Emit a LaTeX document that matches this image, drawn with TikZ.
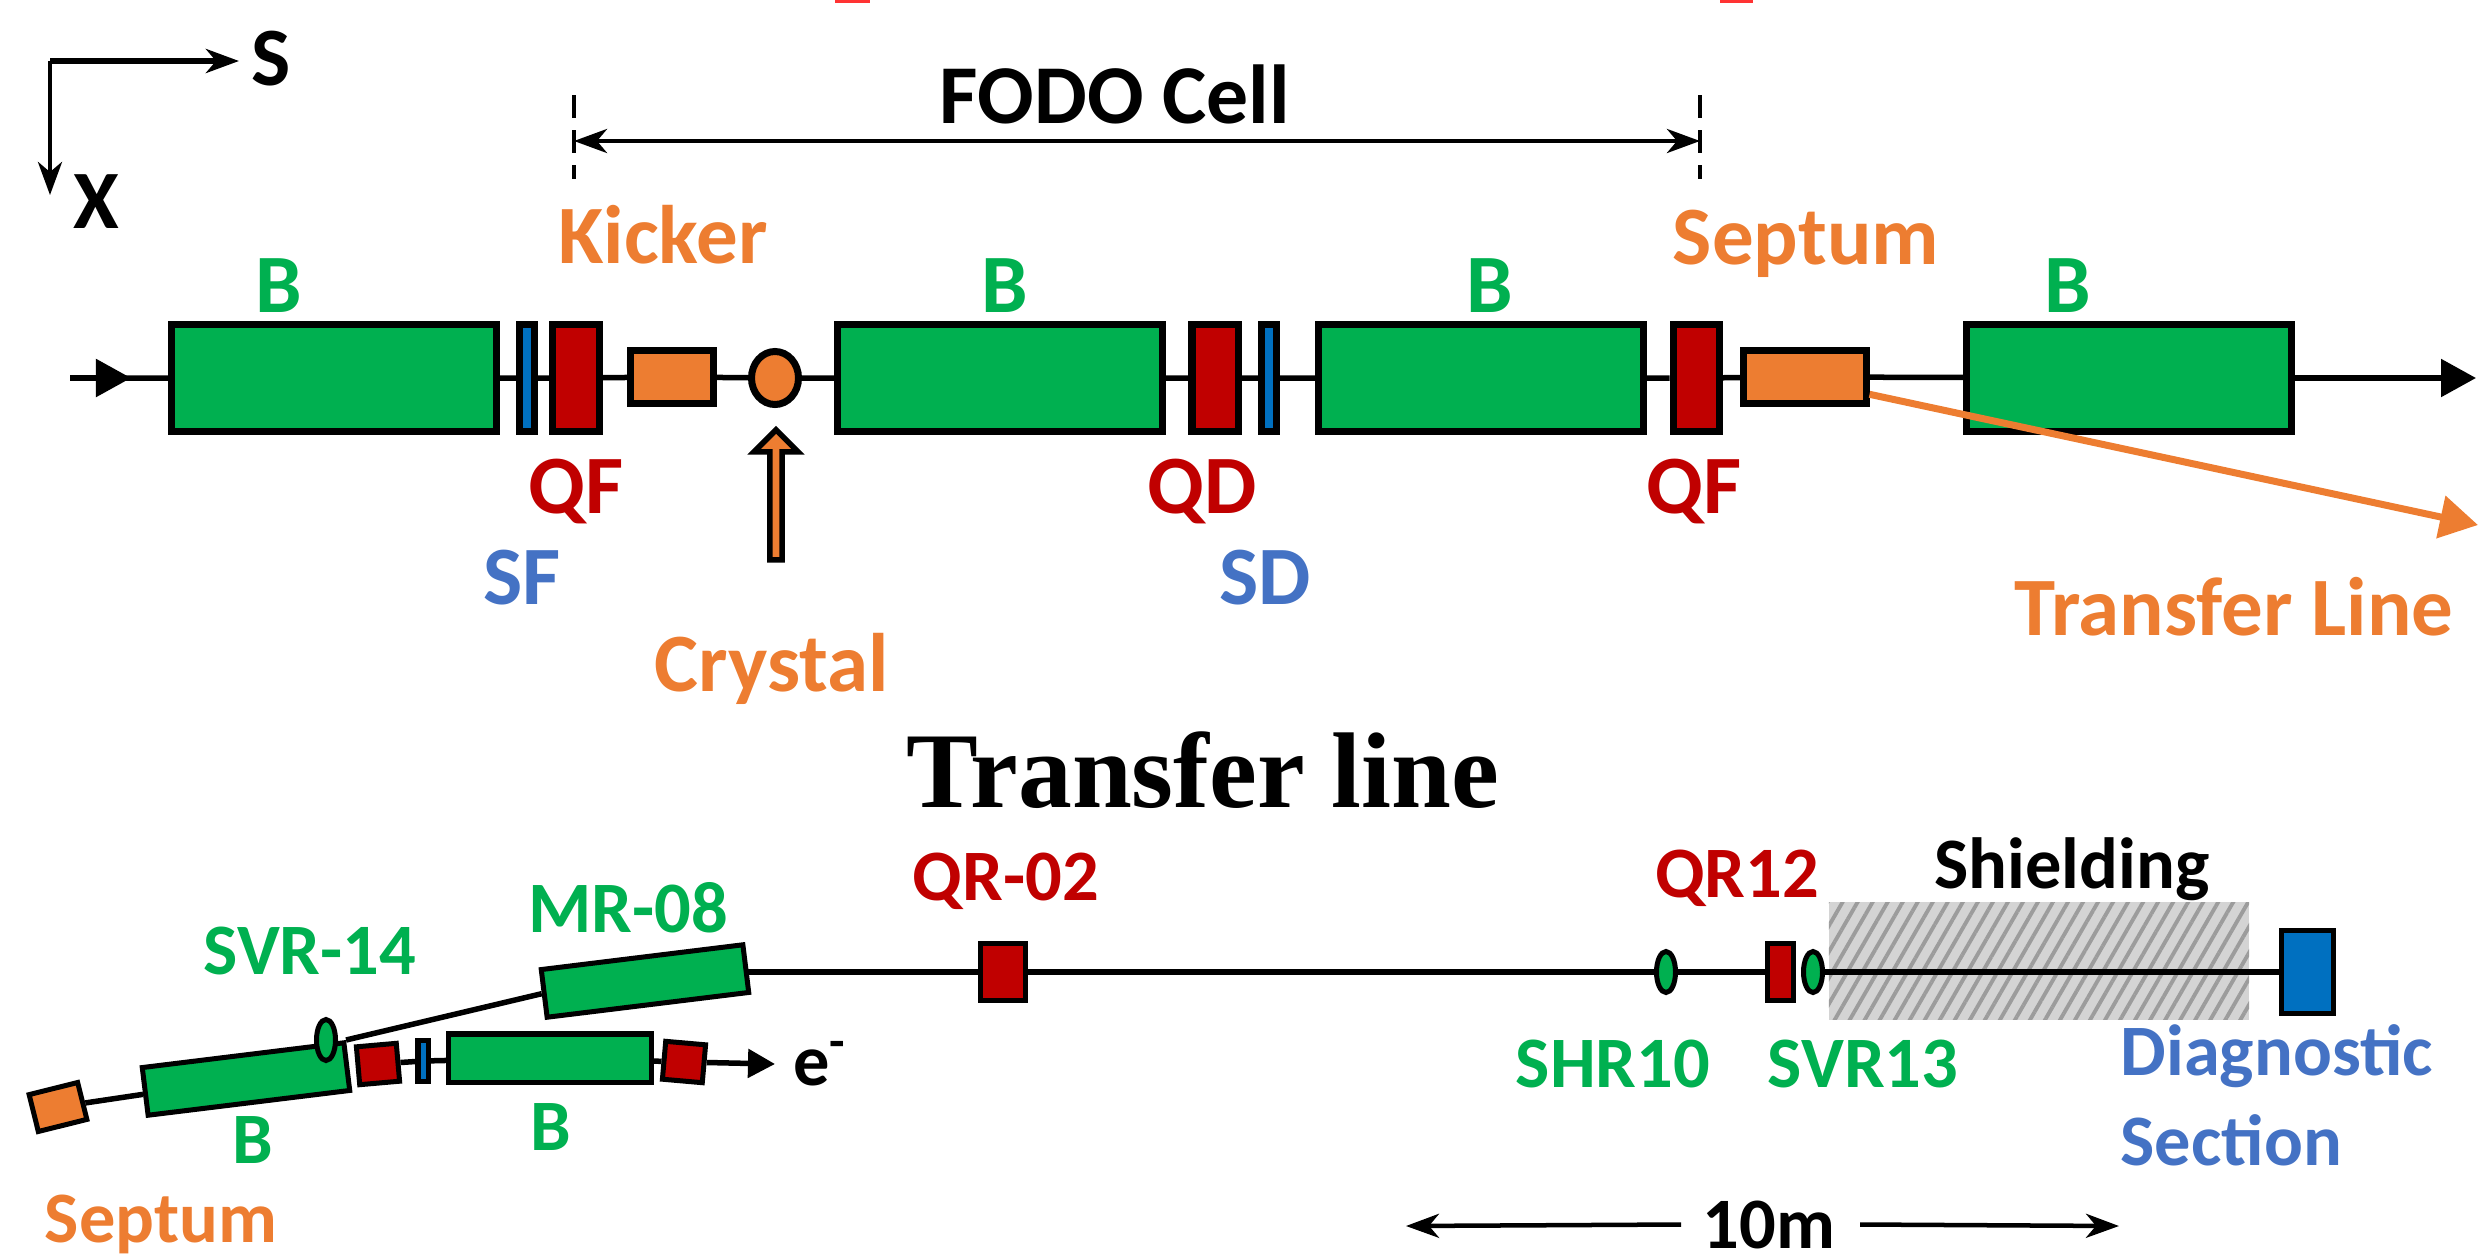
\documentclass[tikz,border=0pt]{standalone}
\usepackage{fontspec}
\setmainfont{Carlito}
\newfontfamily\headfont{Liberation Serif}
\usepackage{tikz}
\usetikzlibrary{shapes}
\usetikzlibrary{arrows.meta}
\usetikzlibrary{patterns.meta}
\definecolor{magnetgreen}{HTML}{00B050}
\definecolor{magnetred}{HTML}{C00000}
\definecolor{partorange}{HTML}{ED7D31}
\definecolor{boxblue}{HTML}{0070C0}
\definecolor{textblue}{HTML}{4472C4}
\definecolor{shieldbg}{HTML}{D4D4D4}
\definecolor{shieldline}{HTML}{9C9C9C}
\tikzset{
	box/.style={rectangle,draw,line width=.07cm,inner sep=0pt},
	dipole/.style={box,fill=magnetgreen,minimum width=3.25cm,minimum height=1.06cm},
	quad/.style={box,fill=magnetred,minimum width=.46cm,minimum height=1.06cm},
	sext/.style={box,fill=boxblue,minimum width=.15cm,minimum height=1.06cm},
	part/.style={box,fill=partorange},
	lowbox/.style={line width=.05cm},
	lowdipole/.style={box,lowbox,fill=magnetgreen,minimum width=2.03cm,minimum height=.48cm},
	lowquad/.style={box,lowbox,fill=magnetred,minimum width=.4cm,minimum height=.38cm},
	corrector/.style={ellipse,draw,lowbox,fill=magnetgreen,inner sep=0pt,minimum width=.19cm,minimum height=.41cm},
	beam/.style={draw,line width=.055cm},
	bigtip/.style={-{Triangle[length=.35cm,width=.37cm]}},
	thin line/.style={draw,line width=.045cm},
	label/.style={inner sep=0pt,anchor=base,font=\bfseries\fontsize{23.6}{28}\selectfont},
	small label/.style={inner sep=0pt,anchor=base,font=\bfseries\fontsize{20.6}{25}\selectfont}
}

\begin{document}
\begin{tikzpicture}[x=.01cm,y=-.01cm,>={Stealth[length=.33cm,width=.24cm,inset=.1cm]}]
	\useasboundingbox (0,0) rectangle (2481,1257);
	\fill [red!80!white] (835,0) rectangle (870,3);
	\fill [red!80!white] (1720,0) rectangle (1753,3);

	\coordinate (origin) at (50,61);
	\coordinate (send) at (239,61);
	\coordinate (xend) at (50,195);
	\draw [thin line,line width=.055cm,->] (origin) -- (send);
	\draw [thin line,->] (origin) -- (xend);
	\node [label] (s) at (271,85) {S};
	\node [label] (xaxis) at (96,228) {X};

	\coordinate (celltop) at (574,95);
	\coordinate (cellbot) at (574,179);
	\coordinate (celltop2) at (1700,95);
	\coordinate (cellbot2) at (1700,179);
	\coordinate (cellleft) at (574,141);
	\coordinate (cellright) at (1700,141);
	\draw [thin line,dash pattern=on .23cm off .12cm] (celltop) -- (cellbot);
	\draw [thin line,dash pattern=on .23cm off .12cm] (celltop2) -- (cellbot2);
	\draw [thin line,<->] (cellleft) -- (cellright);
	\node [label,font=\bfseries\fontsize{23.8}{28}\selectfont] (fodo) at (1115,123) {FODO Cell};

	\node [dipole] (b1) at (334,378) {};
	\node [sext] (sf) at (527,378) {};
	\node [quad] (qf) at (576,378) {};
	\node [part,minimum width=.82cm,minimum height=.53cm] (kick) at (672,377) {};
	\node [part,ellipse,minimum width=.47cm,minimum height=.53cm] (cryst) at (775,378) {};
	\node [dipole] (b2) at (1000,378) {};
	\node [quad] (qd) at (1215,378) {};
	\node [sext] (sd) at (1269,378) {};
	\node [dipole] (b3) at (1481,378) {};
	\node [quad] (qf2) at (1696,378) {};
	\node [part,minimum width=1.22cm,minimum height=.53cm] (sept) at (1805,377) {};
	\node [dipole] (b4) at (2129,378) {};
	\coordinate (beamin) at (70,378);
	\coordinate (beamtip) at (131,378);
	\coordinate (beamout) at (2476,378);
	\draw [beam,bigtip] (beamin) -- (beamtip);
	\draw [beam] (beamin) -- (b1) -- (sf) -- (qf) -- (kick) -- (cryst) -- (b2) -- (qd) -- (sd) -- (b3) -- (qf2) -- (sept) -- (b4);
	\draw [beam,bigtip] (b4) -- (beamout);

	\coordinate (tlend) at (2478,525);
	\draw [partorange,line width=.07cm,-{Triangle[length=.38cm,width=.42cm]}] (sept.-15) -- (tlend);
	\node [part,single arrow,shape border rotate=90,single arrow head extend=.07cm,single arrow tip angle=90,minimum height=1.3cm,minimum width=.44cm,line width=.055cm] (cryarrow) at (776,498) {};

	\node [label,magnetgreen] (lb1) at (279,312) {B};
	\node [label,magnetgreen] (lb2) at (1005,312) {B};
	\node [label,magnetgreen] (lb3) at (1490,312) {B};
	\node [label,magnetgreen] (lb4) at (2068,312) {B};
	\node [label,partorange] (lkick) at (663,263) {Kicker};
	\node [label,partorange] (lsept) at (1806,264) {Septum};
	\node [label,magnetred] (lqf) at (576,513) {QF};
	\node [label,magnetred] (lqd) at (1202,513) {QD};
	\node [label,magnetred] (lqf2) at (1694,513) {QF};
	\node [label,textblue] (lsf) at (522,604) {SF};
	\node [label,textblue] (lsd) at (1265,604) {SD};
	\node [label,partorange] (lcry) at (772,691) {Crystal};
	\node [label,partorange] (ltl) at (2234,635) {Transfer Line};

	\node [inner sep=0pt,anchor=base,font=\headfont\bfseries\fontsize{30.6}{36}\selectfont] (title) at (1203,807) {Transfer line};

	\node [draw=none,fill=shieldbg,inner sep=0pt,minimum width=4.2cm,minimum height=1.17cm,postaction={pattern={Lines[angle=60,distance=3.7pt,line width=1.1pt]},pattern color=shieldline}] (shield) at (2039,961) {};

	\node [part,lowbox,minimum width=.5cm,minimum height=.38cm,rotate=14] (sept2) at (58,1107) {};
	\node [lowdipole,rotate=7] (tb1) at (246,1079) {};
	\node [lowdipole,rotate=7] (mr08) at (645,981) {};
	\node [corrector] (sv14) at (326,1040) {};
	\node [lowquad,rotate=5] (red1) at (378,1064) {};
	\node [sext,lowbox,minimum width=.1cm,minimum height=.41cm] (blue1) at (423,1061) {};
	\node [lowdipole,rotate=0] (tb2) at (550,1058) {};
	\node [lowquad,rotate=-5] (red2) at (684,1062) {};
	\coordinate (etip) at (775,1064);
	\draw [beam] (sept2) -- (tb1);
	\draw [beam] (tb1.north east) -- (mr08.west);
	\draw [beam] (red1) -- (blue1) -- (tb2) -- (red2);
	\draw [beam,-{Triangle[length=.27cm,width=.28cm]}] (red2) -- (etip);

	\node [box,lowbox,fill=magnetred,minimum width=.44cm,minimum height=.56cm] (qr02) at (1003,972) {};
	\node [corrector] (shr10) at (1666,972) {};
	\node [box,lowbox,fill=magnetred,minimum width=.26cm,minimum height=.57cm] (qr12) at (1780,972) {};
	\node [corrector] (svr13) at (1813,972) {};
	\node [box,lowbox,fill=boxblue,minimum width=.52cm,minimum height=.82cm] (diag) at (2307,972) {};
	\draw [beam] (qr02 -| mr08.east) -- (qr02) -- (shr10) -- (qr12);
	\draw [beam] (svr13) -- (diag);

	\node [small label,magnetgreen] (lsv14) at (310,974) {SVR-14};
	\node [small label,magnetgreen] (lmr08) at (628,932) {MR-08};
	\node [small label,magnetgreen] (ltb1) at (253,1163) {B};
	\node [small label,magnetgreen] (ltb2) at (551,1150) {B};
	\node [small label,partorange] (lsept2) at (161,1242) {Septum};
	\node [small label,magnetred] (lqr02) at (1006,900) {QR-02};
	\node [small label,magnetred] (lqr12) at (1737,897) {QR12};
	\node [small label] (lshield) at (2072,888) {Shielding};
	\node [small label,magnetgreen] (lshr10) at (1613,1087) {SHR10};
	\node [small label,magnetgreen] (lsvr13) at (1863,1087) {SVR13};
	\node [small label,textblue,anchor=base west] (ldiag) at (2120,1075) {Diagnostic};
	\node [small label,textblue,anchor=base west] (lsect) at (2120,1165) {Section};
	\node [small label] (le) at (820,1085) {e\textsuperscript{-}};
	\node [small label] (lten) at (1769,1248) {10m};
	\coordinate (tenleft) at (1406,1226);
	\coordinate (tenright) at (2119,1226);
	\draw [thin line,<-] (tenleft) -- (lten.west -| 1681,0);
	\draw [thin line,->] (lten.east -| 1860,0) -- (tenright);
\end{tikzpicture}
\end{document}
